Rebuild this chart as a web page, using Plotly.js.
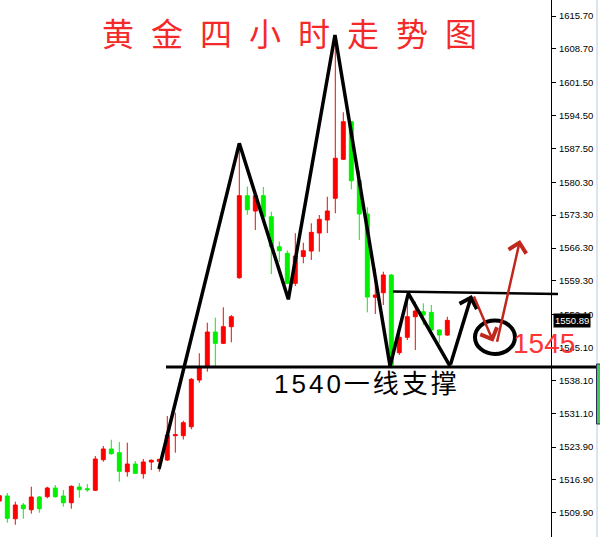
<!DOCTYPE html>
<html><head><meta charset="utf-8">
<script src="https://cdn.plot.ly/plotly-3.0.1.min.js"></script>
<style>html,body{margin:0;padding:0;background:#fff}#chart{width:600px;height:537px}</style>
</head><body><div id="chart"></div>
<script>
// 4-hour gold candles (oldest first), red = up, green = down
const openP  = [1512.42,1513.49,1508.65,1511.57,1510.57,1513.27,1513.34,1515.19,1513.49,1512.06,1515.40,1515.04,1514.70,1521.22,1523.50,1522.71,1518.66,1520.30,1518.24,1520.73,1520.88,1521.15,1526.33,1526.33,1528.24,1538.19,1541.02,1548.41,1546.00,1549.54,1559.97,1577.44,1574.18,1577.44,1572.96,1566.57,1565.17,1558.78,1564.49,1565.66,1569.49,1572.26,1576.88,1585.19,1593.19,1580.67,1573.54,1555.80,1556.78,1560.55,1544.00,1547.28,1551.67,1552.73,1552.60,1548.84,1547.77];
const highP  = [1513.91,1514.13,1512.27,1512.00,1515.47,1513.49,1515.47,1515.83,1514.76,1515.76,1516.25,1516.04,1522.00,1524.13,1525.47,1524.99,1524.84,1520.94,1521.37,1521.30,1521.37,1530.52,1531.23,1529.52,1538.61,1543.88,1550.39,1551.46,1553.67,1552.03,1588.40,1579.39,1577.80,1579.29,1574.03,1567.68,1565.77,1569.45,1567.43,1571.56,1573.33,1577.22,1611.23,1595.20,1593.34,1582.76,1574.97,1561.93,1561.25,1560.76,1548.84,1555.93,1554.86,1554.52,1554.16,1548.95,1551.67];
const lowP   = [1512.21,1507.80,1507.37,1508.65,1509.72,1509.93,1513.00,1513.12,1511.21,1510.78,1513.12,1514.40,1514.55,1520.79,1522.28,1516.53,1517.60,1518.17,1517.17,1519.02,1518.66,1520.94,1522.71,1525.52,1527.69,1537.61,1539.96,1541.02,1545.85,1546.22,1559.76,1573.39,1570.13,1572.79,1560.76,1563.32,1558.63,1558.21,1563.04,1563.74,1565.51,1569.49,1573.69,1585.04,1578.80,1568.00,1552.60,1552.24,1554.16,1540.68,1543.51,1546.71,1544.58,1549.90,1548.13,1546.00,1547.56];
const closeP = [1513.55,1508.74,1511.57,1510.78,1513.27,1510.78,1515.19,1513.34,1512.06,1515.55,1514.83,1514.83,1521.37,1523.50,1522.49,1518.75,1520.30,1518.32,1520.73,1521.09,1521.30,1526.48,1526.54,1529.10,1538.34,1541.02,1548.41,1546.00,1549.54,1551.67,1577.44,1574.45,1577.44,1572.96,1566.57,1565.72,1558.78,1564.59,1565.72,1569.64,1572.41,1574.18,1585.40,1593.19,1580.63,1573.54,1555.86,1556.29,1560.55,1541.38,1547.28,1551.67,1552.88,1552.03,1548.84,1547.77,1550.89];
const barIndex = openP.map((_, i) => i - 1);

const tickValues = [1509.90,1516.90,1523.90,1531.10,1538.10,1545.10,1552.10,1559.30,1566.30,1573.30,1580.30,1587.50,1594.50,1601.50,1608.70,1615.70];
const tickLabels = tickValues.map(v => v.toFixed(2));
const lastPrice = 1550.89;

// hand-drawn pattern (bar index, price)
const zigX = [18.96, 29.0, 35.13, 40.96, 47.84, 50.13, 55.34];
const zigY = [1519.24, 1588.59, 1555.37, 1611.66, 1541.17, 1556.65, 1541.17];
const zigTip = [58.05, 1556.29];
const supportLevel = 1540.96;
const resistanceLevel = [1557.03, 1556.50];
const circleBox = [58.46, 63.46, 1543.73, 1550.86];
const arrowDown = [58.25, 1556.29, 60.75, 1546.34];
const arrowUp = [61.18, 1546.00, 64.09, 1568.00];
const titleText = '黄金四小时走势图';
const supportText = '1540一线支撑';
const targetText = '1545';

const W = 551; // plot width in px
const RED = '#ff0000', GREEN = '#00f000', ARROW = '#c0281e';

const traces = [
  {
    type: 'candlestick', x: barIndex, open: openP, high: highP, low: lowP, close: closeP,
    increasing: {line: {color: RED, width: 1}, fillcolor: RED},
    decreasing: {line: {color: GREEN, width: 1}, fillcolor: GREEN},
    whiskerwidth: 0, hoverinfo: 'skip', showlegend: false
  },
  {
    type: 'scatter', mode: 'lines', x: zigX, y: zigY,
    line: {color: '#000', width: 3.5}, hoverinfo: 'skip', showlegend: false
  }
];

const layout = {
  width: 600, height: 537,
  margin: {l: 0, r: 49, t: 0, b: 0},
  paper_bgcolor: '#fff', plot_bgcolor: '#fff',
  showlegend: false, hovermode: false,
  xaxis: {range: [-0.9125, 67.9625], showticklabels: false, showgrid: false, zeroline: false,
          showline: false, ticks: '', rangeslider: {visible: false}, fixedrange: true},
  yaxis: {range: [1504.76, 1619.11], side: 'right', showgrid: false, zeroline: false,
          showline: true, linecolor: '#000', linewidth: 1, mirror: false,
          ticks: 'outside', ticklen: 4, tickcolor: '#000', tickwidth: 1,
          tickvals: tickValues, ticktext: tickLabels, ticklabelstandoff: 1,
          tickfont: {family: 'Liberation Sans, Arial, sans-serif', size: 9.5, color: '#000'},
          fixedrange: true},
  shapes: [
    {type: 'line', xref: 'paper', yref: 'y', x0: 166 / W, x1: 597 / W, y0: supportLevel, y1: supportLevel,
     line: {color: '#000', width: 3}, layer: 'above'},
    {type: 'line', xref: 'paper', yref: 'y', x0: 393 / W, x1: 558 / W, y0: resistanceLevel[0], y1: resistanceLevel[1],
     line: {color: '#000', width: 2.5}, layer: 'above'},
    {type: 'circle', xref: 'x', yref: 'y', x0: circleBox[0], x1: circleBox[1], y0: circleBox[2], y1: circleBox[3],
     line: {color: '#000', width: 4}, layer: 'above'},
    {type: 'line', xref: 'paper', yref: 'paper', x0: 597 / W, x1: 597 / W, y0: 0, y1: 1,
     line: {color: '#b9c9d9', width: 1}},
    {type: 'rect', xref: 'paper', yref: 'paper', x0: 596.5 / W, x1: 601 / W, y0: 1 - 424 / 537, y1: 1 - 364 / 537,
     fillcolor: '#45c45a', line: {color: '#2a2f5a', width: 1}}
  ],
  annotations: [
    {xref: 'paper', yref: 'paper', x: 298 / W, y: 1 - 32 / 537, xanchor: 'center', yanchor: 'middle', showarrow: false,
     text: '<span style="letter-spacing:17px">' + titleText + '</span>',
     font: {family: 'Noto Sans CJK SC, sans-serif', size: 32, color: '#f42a2a'}},
    {xref: 'x', yref: 'y', x: 44.95, y: 1537.34, showarrow: false,
     text: '<span style="letter-spacing:3px">' + supportText + '</span>',
     font: {family: 'Liberation Sans, Noto Sans CJK SC, sans-serif', size: 26, color: '#000'}},
    {xref: 'x', yref: 'y', x: 67.09, y: 1545.86, showarrow: false, text: targetText,
     font: {family: 'Liberation Sans, Arial, sans-serif', size: 28, color: '#ff3535'}},
    {xref: 'paper', yref: 'y', x: 553 / W, y: lastPrice, xanchor: 'left', yanchor: 'middle', showarrow: false,
     text: lastPrice.toFixed(2), bgcolor: '#000', borderpad: 1,
     font: {family: 'Liberation Sans, Arial, sans-serif', size: 9.5, color: '#fff'}},
    {xref: 'x', yref: 'y', axref: 'x', ayref: 'y', x: zigTip[0], y: zigTip[1], ax: zigX[6], ay: zigY[6],
     text: '', showarrow: true, arrowhead: 4, arrowsize: 1, arrowwidth: 3.5, arrowcolor: '#000', standoff: 0, startstandoff: 0},
    {xref: 'x', yref: 'y', axref: 'x', ayref: 'y', x: arrowDown[2], y: arrowDown[3], ax: arrowDown[0], ay: arrowDown[1],
     text: '', showarrow: true, arrowhead: 4, arrowsize: 1.4, arrowwidth: 2.5, arrowcolor: ARROW, standoff: 0, startstandoff: 0},
    {xref: 'x', yref: 'y', axref: 'x', ayref: 'y', x: arrowUp[2], y: arrowUp[3], ax: arrowUp[0], ay: arrowUp[1],
     text: '', showarrow: true, arrowhead: 4, arrowsize: 1.4, arrowwidth: 2.5, arrowcolor: ARROW, standoff: 0, startstandoff: 0}
  ]
};

Plotly.newPlot('chart', traces, layout, {displayModeBar: false, staticPlot: true});
</script>
</body></html>
